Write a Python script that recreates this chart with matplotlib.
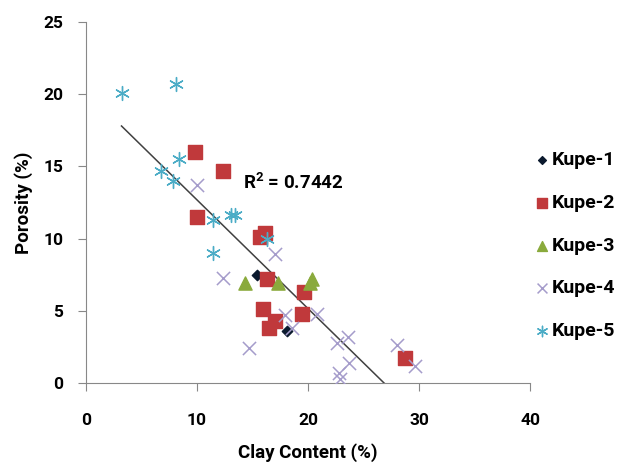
import numpy as np
import matplotlib
matplotlib.use('Agg')
import matplotlib.pyplot as plt

# values (clay %, porosity %)
kupe1_clay = [15.4, 18.1]
kupe1_por = [7.5, 3.6]

kupe2_clay = [9.8, 12.3, 10.0, 15.7, 16.1, 16.3, 15.9, 17.0, 16.5, 19.6, 19.5, 28.7]
kupe2_por = [16.0, 14.7, 11.5, 10.1, 10.4, 7.2, 5.1, 4.3, 3.8, 6.3, 4.8, 1.7]

kupe3_clay = [14.3, 17.3, 20.4, 20.2]
kupe3_por = [6.9, 6.9, 7.2, 6.9]

kupe4_clay = [10.0, 17.0, 12.3, 17.9, 18.6, 20.8, 14.7, 22.6, 23.6, 23.7, 22.8, 22.9, 28.0, 29.6]
kupe4_por = [13.7, 8.9, 7.3, 4.7, 3.8, 4.8, 2.4, 2.8, 3.2, 1.4, 0.7, 0.3, 2.6, 1.2]

kupe5_clay = [3.2, 8.1, 8.4, 6.8, 7.8, 13.1, 13.4, 11.4, 11.4, 16.3]
kupe5_por = [20.1, 20.7, 15.5, 14.7, 14.0, 11.6, 11.6, 11.3, 9.0, 10.0]

r2_label = 'R$^2$ = 0.7442'

plt.rcParams['font.family'] = ['Roboto', 'DejaVu Sans']
plt.rcParams['mathtext.default'] = 'bf'
plt.rcParams['mathtext.fontset'] = 'custom'
plt.rcParams['mathtext.bf'] = 'Roboto:bold'

fig = plt.figure(figsize=(6.29, 4.63), dpi=100)
ax = fig.add_axes([0.1367, 0.1728, 0.706, 0.7797])

ax.scatter(kupe1_clay, kupe1_por, marker='D', s=28, color='#0b1a2e', label='Kupe-1', zorder=3)
ax.scatter(kupe2_clay, kupe2_por, marker='s', s=95, color='#c0393b', label='Kupe-2', zorder=3)
ax.scatter(kupe3_clay, kupe3_por, marker='^', s=90, color='#8aaa3c', label='Kupe-3', zorder=3)
ax.scatter(kupe4_clay, kupe4_por, marker='x', s=90, color='#a59ccb', linewidths=1.1, label='Kupe-4', zorder=3)
ax.scatter(kupe5_clay, kupe5_por, marker=(6, 2, 0), s=100, color='#4bacc6', linewidths=1.0, label='Kupe-5', zorder=3)

# linear trend through all wells
all_x = np.array(kupe1_clay + kupe2_clay + kupe3_clay + kupe4_clay + kupe5_clay)
all_y = np.array(kupe1_por + kupe2_por + kupe3_por + kupe4_por + kupe5_por)
slope, icpt = np.polyfit(all_x, all_y, 1)
xs = np.array([all_x.min(), all_x.max()])
ax.plot(xs, slope * xs + icpt, color='#404040', lw=1.1, zorder=2)

ax.text(14.1, 13.4, r2_label, fontsize=13.5, fontweight='bold')

ax.set_xlim(0, 40)
ax.set_ylim(0, 25)
ax.set_xticks([0, 10, 20, 30, 40])
ax.set_yticks([0, 5, 10, 15, 20, 25])
for side in ['top', 'right']:
    ax.spines[side].set_visible(False)
for side in ['left', 'bottom']:
    ax.spines[side].set_color('#888888')
ax.tick_params(direction='out', length=5.5, color='#888888', labelsize=12.5)
ax.tick_params(axis='x', pad=16)
ax.tick_params(axis='y', pad=11)
for lab in ax.get_xticklabels() + ax.get_yticklabels():
    lab.set_fontweight('bold')

ax.set_xlabel('Clay Content (%)', fontsize=13.5, fontweight='bold', labelpad=11)
ax.set_ylabel('Porosity (%)', fontsize=13.5, fontweight='bold', labelpad=7)

leg = ax.legend(loc='upper left', bbox_to_anchor=(0.965, 0.69), frameon=False,
                prop={'weight': 'bold', 'size': 14}, handletextpad=0.0,
                labelspacing=1.27, handlelength=1.0, markerscale=0.75)

fig.savefig('out.png', dpi=100)
